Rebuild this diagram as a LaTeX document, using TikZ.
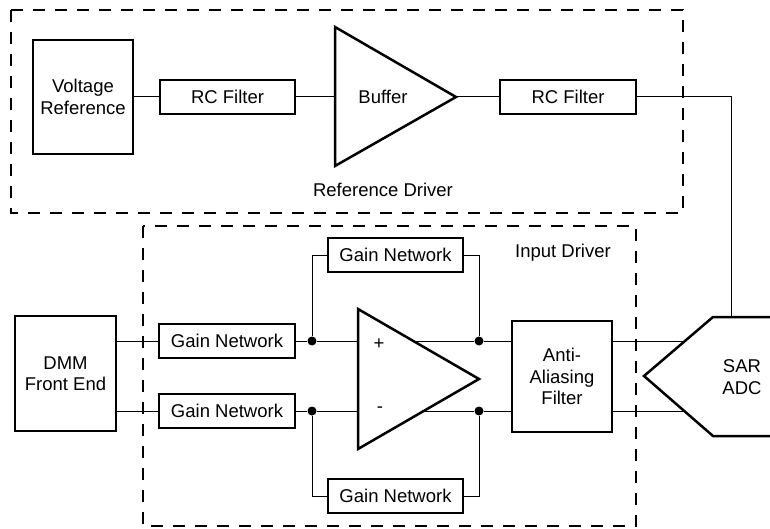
\documentclass[tikz,border=0pt]{standalone}
\usepackage{fontspec}
\setmainfont{Liberation Sans}
\begin{document}
\begin{tikzpicture}[x=1pt,y=-1pt,
  blk/.style={draw,line width=2.5pt,rectangle,inner sep=0pt,align=center,font=\fontsize{18.5}{21.5}\selectfont},
  lbl/.style={inner sep=0pt,align=center,font=\fontsize{18.5}{21.5}\selectfont},
  wire/.style={line width=1pt},
  thick shape/.style={line width=2.5pt,line join=miter},
  grp/.style={line width=2pt,dash pattern=on 12pt off 10pt},
  dot/.style={circle,fill,inner sep=0pt,minimum size=9pt}]
\useasboundingbox (0,0) rectangle (770,529);
% group frames
\draw[grp] (11,10) rectangle (683,213);
\draw[grp] (143,226) rectangle (636,526);
% reference chain
\node[blk,minimum width=100pt,minimum height=114pt] (vref) at (83,97) {Voltage\\Reference};
\node[blk,minimum width=135pt,minimum height=34pt] (rc1) at (227.5,97) {RC Filter};
\node[blk,minimum width=136pt,minimum height=34pt] (rc2) at (568,97) {RC Filter};
\coordinate (bufA) at (335,27);
\coordinate (bufB) at (335,166);
\coordinate (bufO) at (456,97);
\coordinate (bufI) at (335,97);
\draw[thick shape] (bufA) -- (bufO) -- (bufB) -- cycle;
\node[lbl] (buflbl) at (383,97) {Buffer};
\node[lbl] (refdrv) at (383,190) {Reference Driver};
\draw[wire] (vref.east) -- (rc1.west);
\draw[wire] (rc1.east) -- (bufI);
\draw[wire] (bufO) -- (rc2.west);
% ADC
\coordinate (adcT) at (731,317);
\coordinate (adcA) at (770,317);
\coordinate (adcB) at (713,317);
\coordinate (adcC) at (644,376);
\coordinate (adcD) at (713,436);
\coordinate (adcE) at (770,436);
\draw[thick shape] (adcA) -- (adcB) -- (adcC) -- (adcD) -- (adcE);
\node[lbl] (adclbl) at (742,377) {SAR\\ADC};
\draw[wire] (rc2.east) -| (adcT);
% input chain
\node[blk,minimum width=101pt,minimum height=115pt] (dmm) at (65.5,373.5) {DMM\\Front End};
\node[blk,minimum width=136pt,minimum height=34pt] (gn1) at (227,341) {Gain Network};
\node[blk,minimum width=136pt,minimum height=34pt] (gn2) at (227,411) {Gain Network};
\node[blk,minimum width=135pt,minimum height=34pt] (gnt) at (395.5,255) {Gain Network};
\node[blk,minimum width=135pt,minimum height=34pt] (gnb) at (395.5,496) {Gain Network};
\node[blk,minimum width=100pt,minimum height=111pt] (aaf) at (562,376.5) {Anti-\\Aliasing\\Filter};
\node[lbl] (indrv) at (563,253) {Input Driver};
% op amp
\coordinate (oaA) at (358,309);
\coordinate (oaB) at (358,449);
\coordinate (oaO) at (479,379);
\coordinate (oaIp) at (358,341);
\coordinate (oaIn) at (358,411);
\coordinate (oaOp) at (413,341);
\coordinate (oaOn) at (424,411);
\draw[thick shape] (oaA) -- (oaO) -- (oaB) -- cycle;
\node[lbl] (plus) at (379,344) {+};
\node[lbl] (minus) at (380,410) {-};
\node[dot] (d1) at (312,341) {};
\node[dot] (d2) at (312,411) {};
\node[dot] (d3) at (479,341) {};
\node[dot] (d4) at (479,411) {};
\draw[wire] (dmm.east |- gn1) -- (gn1.west);
\draw[wire] (dmm.east |- gn2) -- (gn2.west);
\draw[wire] (gn1.east) -- (d1) -- (oaIp);
\draw[wire] (gn2.east) -- (d2) -- (oaIn);
\draw[wire] (d1) |- (gnt.west);
\draw[wire] (gnt.east) -| (d3);
\draw[wire] (d2) |- (gnb.west);
\draw[wire] (gnb.east) -| (d4);
\draw[wire] (oaOp) -- (d3) -- (aaf.west |- d3);
\draw[wire] (oaOn) -- (d4) -- (aaf.west |- d4);
\coordinate (adcP) at (685,341);
\coordinate (adcN) at (684,411);
\draw[wire] (aaf.east |- adcP) -- (adcP);
\draw[wire] (aaf.east |- adcN) -- (adcN);
\end{tikzpicture}
\end{document}
